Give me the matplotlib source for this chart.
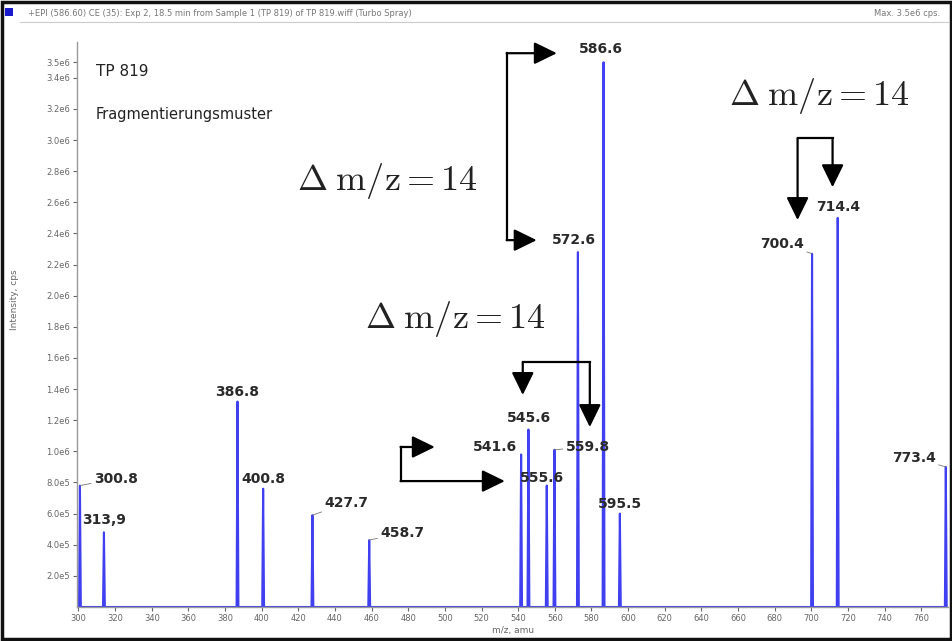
import matplotlib
matplotlib.use("Agg")
import matplotlib.pyplot as plt
from matplotlib.patches import Rectangle
import numpy as np

# peak list (m/z, intensity in cps)
peak_mz = [300.8, 313.9, 386.8, 400.8, 427.7, 458.7, 541.6, 545.6, 555.6,
           559.8, 572.6, 586.6, 595.5, 700.4, 714.4, 773.4]
peak_int = [0.78e6, 0.48e6, 1.32e6, 0.76e6, 0.59e6, 0.43e6, 0.98e6, 1.14e6, 0.78e6,
            1.01e6, 2.28e6, 3.50e6, 0.60e6, 2.27e6, 2.50e6, 0.90e6]
peak_text = ["300.8", "313,9", "386.8", "400.8", "427.7", "458.7", "541.6", "545.6", "555.6",
             "559.8", "572.6", "586.6", "595.5", "700.4", "714.4", "773.4"]
# label placement: offset in pixels from the peak top, and whether a leader is drawn
label_dx = [38, 0, 0, 0, 36, 35, -26, 0, -5, 35, -4, -3, 0, -32, 0, -34]
label_dy = [7, 12, 10, 10, 12, 7, 7, 12, 8, 3, 12, 13, 10, 10, 11, 9]
label_leader = [True, False, False, False, True, True, False, False, False,
                True, False, False, False, True, False, True]

x_ticks = list(range(300, 761, 20))
y_ticks = [2e5 * k for k in range(1, 18)] + [3.5e6]

# delta annotations: text centre (m/z, cps)
delta_pos = [(468.4, 2.74e6), (505.9, 1.85e6), (704.5, 3.28e6)]

BLUE = "#4040f0"
DPI = 100

fig = plt.figure(figsize=(9.53, 6.41), dpi=DPI)
fig.patch.set_facecolor("white")
ax = fig.add_axes([77 / 953, 34 / 641, 871 / 953, 565 / 641])

# spectrum as narrow triangles
xs, ys = [], []
for m, h in zip(peak_mz, peak_int):
    xs += [m - 0.5, m, m + 0.5]
    ys += [0, h, 0]
order = np.argsort(np.array(xs), kind="stable")
ax.plot(np.array(xs)[order], np.array(ys)[order], color=BLUE, lw=1.5, zorder=2)

ax.set_xlim(299.2, 774.6)
ax.set_ylim(0, 3.63e6)
for s in ["top", "right"]:
    ax.spines[s].set_visible(False)
for s in ["left", "bottom"]:
    ax.spines[s].set_color("#9a9a9a")
    ax.spines[s].set_linewidth(1.0)

ax.set_xticks(x_ticks)
ax.set_xticklabels([str(t) for t in x_ticks])
ax.set_yticks(y_ticks)
ax.set_yticklabels([f"{v:.1e}".replace("e+0", "e") for v in y_ticks])
ax.tick_params(labelsize=6, colors="#666666", length=3, width=0.8, pad=2)

# peak labels
for m, h, t, dx, dy, lead in zip(peak_mz, peak_int, peak_text, label_dx, label_dy, label_leader):
    if lead:
        ha = "left" if dx > 0 else "right"
        off = (dx - np.sign(dx) * 24) * 72 / DPI
        ax.annotate(t, xy=(m, h), xytext=(off, dy * 72 / DPI), textcoords="offset points",
                    ha=ha, va="center", fontsize=10, fontweight="bold", color="#2a2a2a",
                    arrowprops=dict(arrowstyle="-", color="#777777", lw=0.6,
                                    shrinkA=0, shrinkB=0), zorder=4)
    else:
        ax.annotate(t, xy=(m, h), xytext=(dx * 72 / DPI, dy * 72 / DPI),
                    textcoords="offset points", ha="center", va="center",
                    fontsize=10, fontweight="bold", color="#2a2a2a", zorder=4)

# delta m/z labels
plt.rcParams["mathtext.fontset"] = "cm"
for (mx, my) in delta_pos:
    ax.text(mx, my, r"$\Delta\;\mathrm{m/z} = 14$", fontsize=26, ha="center",
            va="center", color="#222222", zorder=5)

# brackets with arrows (m/z, cps)
arrow_kw = dict(arrowstyle="-|>,head_length=0.45,head_width=0.22", color="black",
                lw=1.6, shrinkA=0, shrinkB=0, mutation_scale=31)


def arrow(p0, p1):
    ax.annotate("", xy=p1, xytext=p0, arrowprops=arrow_kw, zorder=6)


def seg(p0, p1):
    ax.plot([p0[0], p1[0]], [p0[1], p1[1]], color="black", lw=1.6, zorder=6,
            solid_capstyle="projecting")


# 586.6 / 572.6
seg((533.7, 3.558e6), (533.7, 2.357e6))
arrow((533.7, 3.558e6), (561.1, 3.558e6))
arrow((533.7, 2.357e6), (550.1, 2.357e6))
# 545.6 / 559.8
seg((542.5, 1.574e6), (579.1, 1.574e6))
arrow((542.5, 1.574e6), (542.5, 1.362e6))
arrow((579.1, 1.574e6), (579.1, 1.156e6))
# 541.6 / 555.6 (left)
seg((475.8, 1.028e6), (475.8, 0.809e6))
arrow((475.8, 1.028e6), (494.5, 1.028e6))
arrow((475.8, 0.809e6), (532.7, 0.809e6))
# 700.4 / 714.4
seg((692.5, 3.012e6), (711.6, 3.012e6))
arrow((692.5, 3.012e6), (692.5, 2.486e6))
arrow((711.6, 3.012e6), (711.6, 2.697e6))

# inner text
fig.text(96 / 953, 1 - 72 / 641, "TP 819", fontsize=11, color="#222222", va="center")
fig.text(96 / 953, 1 - 115 / 641, "Fragmentierungsmuster", fontsize=10.5,
         color="#222222", va="center")

# axis titles
fig.text(513 / 953, 1 - 630 / 641, "m/z, amu", fontsize=6.5, color="#666666",
         ha="center", va="center")
fig.text(15 / 953, 1 - 300 / 641, "Intensity, cps", fontsize=6.5, color="#666666",
         ha="center", va="center", rotation=90)

# window header
fig.text(28 / 953, 1 - 13 / 641,
         "+EPI (586.60) CE (35): Exp 2, 18.5 min from Sample 1 (TP 819) of TP 819.wiff (Turbo Spray)",
         fontsize=6, color="#777777", va="center")
fig.text(940 / 953, 1 - 13 / 641, "Max. 3.5e6 cps.", fontsize=6, color="#777777",
         ha="right", va="center")
fig.patches.append(Rectangle((5 / 953, 1 - 16 / 641), 8 / 953, 8 / 641,
                             transform=fig.transFigure, facecolor="#1a1acc",
                             edgecolor="none"))
fig.patches.append(Rectangle((0.002, 0.003), 0.996, 0.994, transform=fig.transFigure,
                             facecolor="none", edgecolor="#111111", lw=2.5))
fig.add_artist(plt.Line2D([20 / 953, 948 / 953], [1 - 22 / 641, 1 - 22 / 641],
                          transform=fig.transFigure, color="#cccccc", lw=0.8))

fig.savefig("out.png", dpi=DPI)
